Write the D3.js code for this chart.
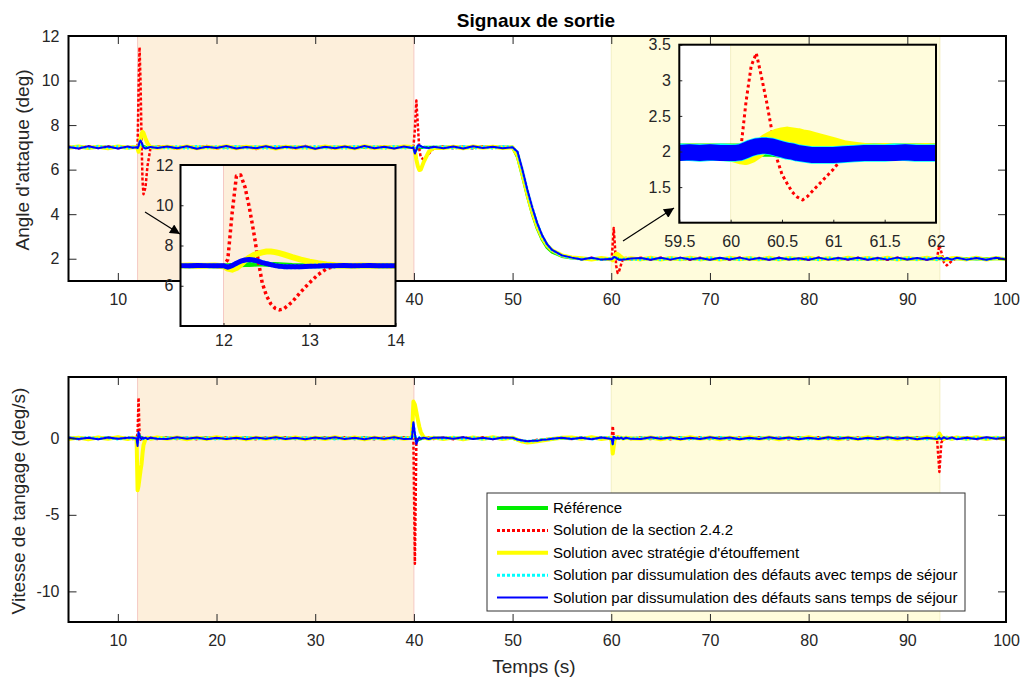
<!DOCTYPE html>
<html><head><meta charset="utf-8">
<script src="https://cdn.jsdelivr.net/npm/d3@7"></script>
<style>
body{margin:0;background:#fff}
svg text{font-family:"Liberation Sans",Arial,sans-serif;fill:#262626}
.tk text{font-size:16px}
.tk line{stroke:#262626;stroke-width:1}
</style>
</head><body><svg id="c" width="1023" height="677"></svg>
<script>
// ---------------- DATA ----------------
const time = [5,6,7,8,9,10,11,
 11.5,11.9,12,12.1,12.2,12.3,12.4,12.5,12.6,12.8,13,13.3,14,
 15,16,17,18,19,20,21,22,23,24,25,26,27,28,29,30,31,32,33,34,35,36,37,38,39,
 39.8,39.95,40.1,40.25,40.4,40.55,40.7,41,41.5,42,
 43,44,45,46,47,48,49,
 50,50.5,51,51.5,52,52.5,53,53.5,54,55,
 56,57,58,59,
 59.9,60.05,60.15,60.25,60.35,60.5,60.65,60.8,61,61.2,61.5,62,
 63,64,65,66,67,68,69,70,71,72,73,74,75,76,77,78,79,80,81,82,83,84,85,86,87,88,89,90,91,92,93,
 93.25,93.45,93.7,94,94.5,
 95,96,97,98,99,100];

const alphaReference = [7.00,7.01,6.99,7.00,7.01,7.00,6.99,
 7.00,7.00,7.00,7.02,7.04,7.06,7.08,7.07,7.05,7.01,6.99,7.00,7.00,
 7.00,6.99,7.01,7.00,7.00,6.99,7.01,7.00,7.00,7.01,6.99,7.00,7.00,7.01,7.00,6.99,7.00,7.01,7.00,7.00,6.99,7.01,7.00,7.00,7.00,
 7.00,7.00,6.96,6.93,6.94,6.96,6.98,7.00,7.00,7.00,
 7.00,7.01,7.00,6.99,7.00,7.01,7.00,
 7.00,6.55,5.70,4.80,4.00,3.35,2.85,2.50,2.30,2.10,
 2.03,2.00,2.00,2.01,
 2.00,2.00,2.01,2.03,2.04,2.03,2.02,2.01,2.00,2.00,2.00,2.00,
 2.00,2.01,1.99,2.00,2.00,2.01,2.00,1.99,2.00,2.01,2.00,2.00,1.99,2.00,2.01,2.00,2.00,1.99,2.01,2.00,2.00,2.01,1.99,2.00,2.00,2.01,2.00,1.99,2.00,2.01,2.00,
 2.00,2.00,2.00,2.00,2.00,
 2.00,2.01,1.99,2.00,2.01,2.00];
const alphaSection242 = [7.03,6.95,7.05,6.97,7.04,6.96,7.02,
 6.98,7.02,7.05,9.60,11.50,9.90,7.40,5.50,4.90,5.20,6.15,6.95,7.03,
 7.05,6.94,7.03,6.98,7.06,6.95,7.02,6.97,7.04,6.93,7.05,6.98,7.02,6.95,7.06,6.97,7.03,6.94,7.04,6.98,7.02,6.96,7.05,6.97,7.03,
 7.03,7.00,7.80,9.10,8.00,6.90,6.55,6.45,6.70,6.95,
 7.04,6.96,7.03,6.95,7.05,6.97,7.02,
 7.00,6.60,5.75,4.85,4.05,3.40,2.90,2.55,2.35,2.12,
 2.05,1.97,2.04,1.96,
 2.03,2.00,2.70,3.38,2.70,1.68,1.36,1.45,1.75,2.02,2.03,1.97,
 2.04,1.96,2.05,1.97,2.03,1.95,2.04,1.98,2.02,1.96,2.05,1.97,2.03,1.96,2.04,1.98,2.02,1.95,2.05,1.97,2.03,1.96,2.04,1.97,2.03,1.95,2.05,1.98,2.02,1.96,2.03,
 2.60,2.30,1.85,1.70,1.90,
 2.03,1.97,2.04,1.96,2.02,1.98];
const alphaEtouffement = [6.98,7.04,6.97,7.03,6.96,7.04,6.98,
 7.00,7.01,6.95,6.80,7.05,7.40,7.60,7.70,7.65,7.40,7.18,7.02,6.98,
 7.03,6.97,7.04,6.96,7.02,6.98,7.05,6.96,7.03,6.97,7.04,6.95,7.03,6.98,7.02,6.96,7.04,6.97,7.03,6.96,7.05,6.97,7.02,6.98,7.04,
 7.02,7.00,6.85,6.45,6.15,5.98,6.00,6.35,6.80,6.98,
 6.97,7.03,6.96,7.04,6.98,7.03,6.97,
 7.00,6.65,5.80,4.90,4.10,3.45,2.95,2.60,2.38,2.15,
 2.06,2.02,1.97,2.03,
 1.98,1.96,1.93,2.01,2.13,2.22,2.21,2.16,2.08,2.02,1.99,2.02,
 1.97,2.04,1.96,2.03,1.98,2.04,1.97,2.03,1.96,2.04,1.98,2.03,1.97,2.04,1.96,2.03,1.98,2.04,1.97,2.02,1.96,2.04,1.98,2.03,1.97,2.04,1.96,2.03,1.98,2.04,1.97,
 2.08,2.05,1.97,1.96,2.02,
 2.03,1.97,2.04,1.96,2.03,1.98];
const alphaAvecSejour = [6.99,7.03,6.97,7.04,6.98,7.03,6.97,
 7.00,6.99,6.98,7.04,7.20,7.28,7.22,7.10,7.01,6.96,6.98,7.00,7.02,
 6.97,7.03,6.96,7.04,6.98,7.03,6.96,7.04,6.97,7.03,6.96,7.04,6.98,7.03,6.96,7.04,6.97,7.03,6.96,7.04,6.98,7.03,6.96,7.04,6.97,
 7.02,7.00,6.76,6.92,7.06,7.08,7.04,7.00,6.98,7.01,
 7.03,6.97,7.04,6.96,7.03,6.97,7.04,
 7.00,6.78,5.97,5.07,4.27,3.57,3.02,2.63,2.38,2.13,
 2.03,1.98,2.03,1.97,
 2.00,1.99,2.02,2.06,2.07,2.03,1.99,1.96,1.96,1.98,2.00,1.98,
 1.97,2.03,1.96,2.04,1.97,2.03,1.96,2.04,1.97,2.03,1.96,2.04,1.97,2.03,1.96,2.04,1.97,2.03,1.96,2.04,1.97,2.03,1.96,2.04,1.97,2.03,1.96,2.04,1.97,2.03,1.96,
 2.01,2.03,1.98,2.02,1.97,
 2.03,1.97,2.04,1.96,2.03,1.98];
const alphaSansSejour = [7.02,6.95,7.05,6.96,7.04,6.95,7.04,
 6.98,7.01,6.97,7.05,7.25,7.30,7.22,7.10,7.00,6.95,6.97,7.02,6.97,
 7.04,6.96,7.05,6.94,7.03,6.97,7.06,6.95,7.02,6.96,7.05,6.95,7.03,6.97,7.05,6.94,7.03,6.96,7.04,6.95,7.06,6.96,7.03,6.95,7.04,
 6.97,7.00,6.72,6.90,7.08,7.10,7.05,7.00,6.97,7.03,
 6.96,7.04,6.95,7.05,6.97,7.03,6.96,
 7.00,6.80,6.00,5.10,4.30,3.60,3.05,2.65,2.40,2.15,
 2.05,1.97,2.04,1.96,
 1.99,1.98,2.02,2.07,2.08,2.03,1.98,1.95,1.95,1.97,1.98,2.01,
 2.03,1.95,2.04,1.96,2.05,1.97,2.03,1.95,2.04,1.97,2.05,1.96,2.03,1.95,2.04,1.97,2.02,1.95,2.05,1.96,2.03,1.97,2.04,1.95,2.03,1.96,2.05,1.97,2.03,1.95,2.04,
 2.00,2.04,1.97,2.03,1.96,
 2.04,1.96,2.03,1.95,2.04,1.97];

const rateReference = [0.00,0.01,-0.01,0.00,0.01,0.00,-0.01,
 0.00,0.00,0.02,0.10,0.12,0.08,0.04,0.00,-0.03,-0.02,0.00,0.00,0.00,
 0.01,0.00,-0.01,0.00,0.01,0.00,-0.01,0.00,0.01,0.00,-0.01,0.00,0.01,0.00,-0.01,0.00,0.01,0.00,-0.01,0.00,0.01,0.00,-0.01,0.00,0.01,
 0.00,0.02,0.05,-0.05,-0.10,-0.08,-0.04,0.00,0.00,0.00,
 0.00,0.01,0.00,-0.01,0.00,0.01,0.00,
 0.00,-0.10,-0.20,-0.22,-0.20,-0.16,-0.12,-0.08,-0.04,0.00,
 -0.01,0.00,0.00,0.00,
 0.00,0.00,0.02,0.05,0.04,0.01,-0.02,-0.02,0.00,0.00,0.00,0.00,
 0.00,0.01,-0.01,0.00,0.01,0.00,-0.01,0.00,0.01,0.00,-0.01,0.00,0.01,0.00,-0.01,0.00,0.01,0.00,-0.01,0.00,0.01,0.00,-0.01,0.00,0.01,0.00,-0.01,0.00,0.01,0.00,-0.01,
 0.00,0.01,0.00,-0.01,0.00,
 0.00,0.01,-0.01,0.00,0.01,0.00];
const rateSection242 = [0.05,-0.06,0.04,-0.05,0.06,-0.04,0.05,
 -0.05,0.05,0.30,2.65,0.20,-0.10,0.06,-0.05,0.04,0.05,-0.04,0.05,-0.05,
 0.06,-0.05,0.04,-0.06,0.05,-0.04,0.06,-0.05,0.04,-0.06,0.05,-0.04,0.06,-0.05,0.04,-0.06,0.05,-0.04,0.06,-0.05,0.04,-0.06,0.05,-0.04,0.06,
 0.05,-0.03,-8.20,-0.25,0.08,-0.05,0.05,-0.04,0.06,-0.05,
 0.04,-0.06,0.05,-0.04,0.06,-0.05,0.04,
 0.05,-0.08,-0.15,-0.22,-0.18,-0.10,-0.12,-0.05,-0.06,0.04,
 -0.05,0.06,-0.04,0.05,
 0.05,0.10,0.80,0.10,-0.10,-0.05,0.05,-0.04,0.05,-0.05,0.04,-0.05,
 0.06,-0.05,0.04,-0.06,0.05,-0.04,0.06,-0.05,0.04,-0.06,0.05,-0.04,0.06,-0.05,0.04,-0.06,0.05,-0.04,0.06,-0.05,0.04,-0.06,0.05,-0.04,0.06,-0.05,0.04,-0.06,0.05,-0.04,0.06,
 -2.20,-0.30,0.05,-0.05,0.06,
 -0.04,0.05,-0.06,0.04,-0.05,0.06];
const rateEtouffement = [-0.05,0.04,-0.06,0.05,-0.04,0.06,-0.05,
 0.03,-0.05,-3.40,-3.10,-2.60,-2.10,-1.70,-1.00,-0.45,-0.05,0.04,-0.03,0.05,
 -0.04,0.05,-0.06,0.04,-0.05,0.06,-0.04,0.05,-0.06,0.04,-0.05,0.06,-0.04,0.05,-0.06,0.04,-0.05,0.06,-0.04,0.05,-0.06,0.04,-0.05,0.06,-0.04,
 0.03,2.40,2.20,1.70,1.20,0.75,0.40,0.05,-0.03,0.04,
 -0.05,0.04,-0.06,0.05,-0.04,0.06,-0.05,
 0.04,-0.10,-0.22,-0.28,-0.25,-0.20,-0.15,-0.10,-0.05,0.03,
 0.05,-0.04,0.06,-0.05,
 0.03,-0.20,-1.00,-0.50,-0.10,0.05,0.08,0.05,0.03,-0.03,0.04,-0.02,
 -0.04,0.05,-0.06,0.04,-0.05,0.06,-0.04,0.05,-0.06,0.04,-0.05,0.06,-0.04,0.05,-0.06,0.04,-0.05,0.06,-0.04,0.05,-0.06,0.04,-0.05,0.06,-0.04,0.05,-0.06,0.04,-0.05,0.06,-0.04,
 0.30,0.10,-0.05,0.04,-0.03,
 0.05,-0.04,0.06,-0.05,0.04,-0.06];
const rateAvecSejour = [0.03,-0.04,0.05,-0.03,0.04,-0.05,0.03,
 0.00,0.02,-0.40,0.35,0.12,0.02,-0.04,0.04,-0.02,0.03,-0.03,0.02,-0.03,
 0.04,-0.03,0.05,-0.04,0.03,-0.05,0.04,-0.03,0.05,-0.04,0.03,-0.05,0.04,-0.03,0.05,-0.04,0.03,-0.05,0.04,-0.03,0.05,-0.04,0.03,-0.05,0.04,
 0.02,0.90,0.25,-0.30,-0.08,0.04,-0.03,0.03,-0.04,0.03,
 -0.03,0.05,-0.04,0.03,-0.05,0.04,-0.03,
 0.03,-0.08,-0.16,-0.20,-0.18,-0.14,-0.10,-0.07,-0.04,0.02,
 -0.04,0.03,-0.05,0.04,
 0.02,-0.03,-0.35,0.08,0.04,-0.02,0.03,-0.02,0.03,-0.04,0.02,-0.03,
 0.04,-0.03,0.05,-0.04,0.03,-0.05,0.04,-0.03,0.05,-0.04,0.03,-0.05,0.04,-0.03,0.05,-0.04,0.03,-0.05,0.04,-0.03,0.05,-0.04,0.03,-0.05,0.04,-0.03,0.05,-0.04,0.03,-0.05,0.04,
 0.10,0.05,-0.03,0.04,-0.04,
 0.03,-0.05,0.04,-0.03,0.05,-0.04];
const rateSansSejour = [0.03,-0.05,0.04,-0.06,0.05,-0.04,0.03,
 0.03,-0.02,-0.50,0.40,0.15,0.00,-0.05,0.05,-0.03,0.04,-0.05,0.03,-0.04,
 -0.05,0.06,-0.04,0.05,-0.06,0.04,-0.05,0.03,-0.06,0.05,-0.04,0.06,-0.05,0.04,-0.06,0.05,-0.04,0.06,-0.05,0.03,-0.06,0.05,-0.04,0.06,-0.05,
 -0.03,1.05,0.30,-0.37,-0.10,0.05,-0.03,0.04,-0.05,0.04,
 0.05,-0.04,0.06,-0.05,0.04,-0.06,0.05,
 0.03,-0.08,-0.14,-0.20,-0.16,-0.17,-0.10,-0.08,-0.03,0.04,
 -0.05,0.04,-0.06,0.05,
 -0.03,-0.05,-0.40,0.10,0.05,-0.03,0.04,-0.03,0.04,-0.05,0.03,-0.04,
 -0.05,0.06,-0.04,0.05,-0.06,0.04,-0.05,0.06,-0.04,0.05,-0.06,0.04,-0.05,0.06,-0.04,0.05,-0.06,0.04,-0.05,0.06,-0.04,0.05,-0.06,0.04,-0.05,0.06,-0.04,0.05,-0.06,0.04,-0.05,
 0.04,-0.05,0.06,-0.04,0.05,
 -0.06,0.04,-0.05,0.06,-0.04,0.05];

// inset 1 (zoom on t = 11.5 .. 14)
const zoom1Time = [11.5,11.6,11.7,11.8,11.9,12,
 12.05,12.1,12.15,12.2,12.25,12.3,12.35,12.4,12.45,12.5,12.55,12.6,12.65,12.7,
 12.8,12.9,13,13.1,13.2,13.3,13.4,13.5,13.6,13.7,13.8,13.9,14];
const zoom1Reference = [7.00,7.00,7.00,7.00,7.00,7.00,
 7.00,7.01,7.02,7.04,7.05,7.06,7.07,7.08,7.08,7.07,7.06,7.05,7.04,7.03,
 7.01,7.00,6.99,7.00,7.00,7.00,7.00,7.00,7.00,7.00,7.00,7.00,7.00];
const zoom1Section242 = [7.02,6.97,7.03,6.98,7.02,7.00,
 7.30,9.60,11.45,11.50,10.90,9.90,8.70,7.35,6.15,5.50,5.10,4.88,4.80,4.85,
 5.20,5.70,6.15,6.55,6.85,6.97,7.03,6.98,7.03,6.97,7.02,6.98,7.02];
const zoom1Etouffement = [7.00,7.01,6.99,7.00,7.01,6.97,
 6.85,6.80,6.88,7.05,7.25,7.40,7.52,7.60,7.66,7.70,7.70,7.67,7.62,7.56,
 7.42,7.30,7.20,7.12,7.06,7.02,7.00,6.99,7.01,7.00,6.99,7.00,7.00];
const zoom1AvecSejour = [7.00,6.99,7.01,7.00,6.99,7.00,
 6.93,7.00,7.11,7.21,7.27,7.29,7.27,7.22,7.15,7.10,7.05,7.00,6.97,6.95,
 6.94,6.95,6.97,6.98,7.00,7.00,7.01,6.99,7.00,7.01,6.99,7.00,7.00];
const zoom1SansSejour = [7.00,6.99,7.01,7.00,6.99,7.00,
 6.92,7.00,7.12,7.22,7.28,7.30,7.28,7.22,7.15,7.10,7.05,7.00,6.97,6.95,
 6.94,6.95,6.97,6.98,7.00,7.00,7.01,6.99,7.00,7.01,6.99,7.00,7.00];

// inset 2 (zoom on t = 59.5 .. 62)
const zoom2Time = [59.5,59.6,59.7,59.8,59.9,60,
 60.05,60.1,60.15,60.2,60.25,60.3,60.35,60.4,60.45,60.5,60.55,60.6,60.65,60.7,60.75,60.8,
 60.9,61,61.1,61.2,61.3,61.4,61.5,61.6,61.7,61.8,61.9,62];
const zoom2Reference = [2.00,2.00,2.00,2.00,2.00,2.00,
 2.00,2.00,2.01,2.02,2.03,2.04,2.04,2.04,2.03,2.02,2.01,2.00,1.99,1.99,1.99,1.99,
 2.00,2.00,2.00,2.00,2.00,2.00,2.00,2.00,2.00,2.00,2.00,2.00];
const zoom2Section242 = [2.02,1.98,2.03,1.97,2.02,1.99,
 2.01,2.05,2.70,3.20,3.38,3.05,2.70,2.30,1.90,1.68,1.55,1.43,1.36,1.32,1.37,1.45,
 1.60,1.75,1.93,2.02,1.97,2.03,1.98,2.02,1.97,2.03,1.98,2.02];
const zoom2Etouffement = [1.99,2.00,1.98,2.00,1.99,1.98,
 1.96,1.94,1.93,1.96,2.01,2.07,2.13,2.17,2.20,2.22,2.23,2.22,2.21,2.19,2.18,2.16,
 2.12,2.08,2.04,2.02,2.00,1.99,2.00,1.99,2.00,1.99,2.00,1.99];
const zoom2AvecSejour = [1.99,1.99,1.98,1.99,1.99,1.98,
 1.98,1.99,2.02,2.05,2.07,2.08,2.08,2.07,2.05,2.03,2.01,2.00,1.98,1.97,1.96,1.95,
 1.95,1.95,1.96,1.97,1.98,1.98,1.98,1.99,1.99,1.98,1.98,1.98];
const zoom2SansSejour = [1.98,1.99,1.98,1.99,1.98,1.98,
 1.98,1.99,2.02,2.05,2.07,2.08,2.08,2.07,2.05,2.03,2.01,2.00,1.98,1.97,1.96,1.95,
 1.95,1.95,1.96,1.97,1.98,1.98,1.98,1.98,1.99,1.98,1.98,1.98];

const faultWindows = [[12,40],[60,93.3]];
const timeTicks = [10,20,30,40,50,60,70,80,90,100];
const alphaTicks = [2,4,6,8,10,12];
const rateTicks = [-10,-5,0];
const zoom1XTicks = [12,13,14];
const zoom1YTicks = [6,8,10,12];
const zoom2XTicks = [59.5,60,60.5,61,61.5,62];
const zoom2YTicks = [1.5,2,2.5,3,3.5];
const legendLabels = ["Référence","Solution de la section 2.4.2","Solution avec stratégie d'étouffement",
 "Solution par dissumulation des défauts avec temps de séjour","Solution par dissumulation des défauts sans temps de séjour"];
const titleText = "Signaux de sortie";
const xLabel = "Temps (s)";
const alphaLabel = "Angle d'attaque (deg)";
const rateLabel = "Vitesse de tangage (deg/s)";

// ---------------- STYLE / LAYOUT ----------------
const colors = ["#00ee00","#ff0000","#ffff00","#00ffff","#0000ff"];
const windowFill = ["#fdefdb","#fffcdc"];
const windowEdge = ["#f5c9c4","#f3efc4"];
const svg = d3.select("#c");
const defs = svg.append("defs");
let clipN = 0;
function clip(x0,y0,w,h){const id="cp"+(clipN++);defs.append("clipPath").attr("id",id).append("rect").attr("x",x0).attr("y",y0).attr("width",w).attr("height",h);return "url(#"+id+")";}

const X0=68.5, X1=1006;
const x = d3.scaleLinear().domain([5,100]).range([X0,X1]);
const yA = d3.scaleLinear().domain([1,12]).range([281,36]);
const yR = d3.scaleLinear().domain([-12,4]).range([622,377]);

function drawWindows(g, xs, ys, fills){
  const [xa,xb]=xs.range(), [yb,ya]=ys.range();
  const dom=xs.domain();
  faultWindows.forEach((w,i)=>{
    const a=Math.max(w[0],dom[0]), b=Math.min(w[1],dom[1]);
    if(b<=a) return;
    g.append("rect").attr("x",xs(a)).attr("y",ya).attr("width",xs(b)-xs(a)).attr("height",yb-ya).attr("fill",fills[i]);
    [w[0],w[1]].forEach(e=>{ if(e>dom[0]&&e<dom[1]) g.append("line").attr("x1",xs(e)).attr("x2",xs(e)).attr("y1",ya).attr("y2",yb).attr("stroke",windowEdge[i]).attr("stroke-width",1);});
  });
}
function drawSeries(g, xs, ys, t, series, widths, dashes){
  series.forEach((s,i)=>{
    const line=d3.line().x((d,j)=>xs(t[j])).y(d=>ys(d));
    g.append("path").attr("d",line(s)).attr("fill","none").attr("stroke",colors[i])
     .attr("stroke-width",widths[i]).attr("stroke-dasharray",dashes[i]).attr("stroke-linejoin","round");
  });
}
function frame(g, xs, ys, xt, yt, tick, padX, padY, full, fmt){
  const [xa,xb]=xs.range(), [yb,ya]=ys.range();
  const f = fmt||(d=>String(d));
  const gb=g.append("g").attr("class","tk").attr("transform",`translate(0,${yb})`)
    .call(d3.axisBottom(xs).tickValues(xt).tickSizeInner(-tick).tickSizeOuter(0).tickPadding(padX).tickFormat(f));
  const gl=g.append("g").attr("class","tk").attr("transform",`translate(${xa},0)`)
    .call(d3.axisLeft(ys).tickValues(yt).tickSizeInner(-tick).tickSizeOuter(0).tickPadding(padY).tickFormat(f));
  const gs=[gb,gl];
  if(full){
    gs.push(g.append("g").attr("class","tk").attr("transform",`translate(0,${ya})`)
      .call(d3.axisTop(xs).tickValues(xt).tickSizeInner(-tick).tickSizeOuter(0).tickFormat("")));
    gs.push(g.append("g").attr("class","tk").attr("transform",`translate(${xb},0)`)
      .call(d3.axisRight(ys).tickValues(yt).tickSizeInner(-tick).tickSizeOuter(0).tickFormat("")));
  }
  gs.forEach(a=>{a.attr("font-family",null).attr("font-size",null);a.select(".domain").remove();});
  g.append("rect").attr("x",xa).attr("y",ya).attr("width",xb-xa).attr("height",yb-ya)
   .attr("fill","none").attr("stroke","#000").attr("stroke-width",2);
}

// ---------------- MAIN PANELS ----------------
const mainW=[3,2.5,4,3,2], mainD=[null,"3,2",null,"2,2",null];
function mainPanel(ys, series, yt){
  const g=svg.append("g");
  const [yb,ya]=ys.range();
  g.append("rect").attr("x",X0).attr("y",ya).attr("width",X1-X0).attr("height",yb-ya).attr("fill","#fff");
  const inner=g.append("g").attr("clip-path",clip(X0,ya,X1-X0,yb-ya));
  drawWindows(inner,x,ys,windowFill);
  drawSeries(inner,x,ys,time,series,mainW,mainD);
  frame(g,x,ys,timeTicks,yt,8,12.5,9,true);
}
mainPanel(yA,[alphaReference,alphaSection242,alphaEtouffement,alphaAvecSejour,alphaSansSejour],alphaTicks);
mainPanel(yR,[rateReference,rateSection242,rateEtouffement,rateAvecSejour,rateSansSejour],rateTicks);

// ---------------- INSETS ----------------
const arrowDef=defs.append("marker").attr("id","ah").attr("viewBox","0 0 10 10").attr("refX",10).attr("refY",5)
 .attr("markerWidth",14).attr("markerHeight",10).attr("markerUnits","userSpaceOnUse").attr("orient","auto");
arrowDef.append("path").attr("d","M0,0 L10,5 L0,10 Z").attr("fill","#000");

function inset(xs, ys, t, series, widths, dashes, xt, yt, padX, padY){
  const g=svg.append("g");
  const [xa,xb]=xs.range(), [yb,ya]=ys.range();
  g.append("rect").attr("x",xa).attr("y",ya).attr("width",xb-xa).attr("height",yb-ya).attr("fill","#fff");
  const inner=g.append("g").attr("clip-path",clip(xa,ya,xb-xa,yb-ya));
  drawWindows(inner,xs,ys,windowFill);
  drawSeries(inner,xs,ys,t,series,widths,dashes);
  frame(g,xs,ys,xt,yt,3,padX,padY,false);
}
const xZ1=d3.scaleLinear().domain([11.5,14]).range([180.5,395.5]);
const yZ1=d3.scaleLinear().domain([4,12]).range([326,165]);
inset(xZ1,yZ1,zoom1Time,[zoom1Reference,zoom1Section242,zoom1Etouffement,zoom1AvecSejour,zoom1SansSejour],
  [5,3.5,6,5,5],[null,"3,3",null,"2,2",null],zoom1XTicks,zoom1YTicks,9,7);
const xZ2=d3.scaleLinear().domain([59.5,62]).range([679.3,936]);
const yZ2=d3.scaleLinear().domain([1,3.5]).range([222.7,44.7]);
inset(xZ2,yZ2,zoom2Time,[zoom2Reference,zoom2Section242,zoom2Etouffement,zoom2AvecSejour,zoom2SansSejour],
  [16,3,17,17.5,16],[null,"3,3",null,null,null],zoom2XTicks,zoom2YTicks,13,8.5);

svg.append("line").attr("x1",145).attr("y1",212).attr("x2",180).attr("y2",234).attr("stroke","#000").attr("stroke-width",1.2).attr("marker-end","url(#ah)");
svg.append("line").attr("x1",623).attr("y1",241).attr("x2",674).attr("y2",208).attr("stroke","#000").attr("stroke-width",1.2).attr("marker-end","url(#ah)");

// ---------------- TEXT ----------------
svg.append("text").attr("x",536).attr("y",27).attr("text-anchor","middle").style("font-size","19px").style("font-weight","bold").style("fill","#000").text(titleText);
svg.append("text").attr("transform","translate(29,160) rotate(-90)").attr("text-anchor","middle").style("font-size","19px").text(alphaLabel);
svg.append("text").attr("transform","translate(25,501) rotate(-90)").attr("text-anchor","middle").style("font-size","19px").text(rateLabel);
svg.append("text").attr("x",534).attr("y",673).attr("text-anchor","middle").style("font-size","19px").text(xLabel);

// ---------------- LEGEND ----------------
const lg=svg.append("g");
lg.append("rect").attr("x",487).attr("y",493).attr("width",478).attr("height",118).attr("fill","#fff").attr("stroke","#333").attr("stroke-width",1);
const legW=[4,3,4,3,2], legD=[null,"3,2",null,"3,2",null];
legendLabels.forEach((lab,i)=>{
  const yy=508+i*22.4;
  lg.append("line").attr("x1",497).attr("x2",548).attr("y1",yy).attr("y2",yy).attr("stroke",colors[i]).attr("stroke-width",legW[i]).attr("stroke-dasharray",legD[i]);
  lg.append("text").attr("x",553).attr("y",yy+5).style("font-size","15px").style("fill","#000").text(lab);
});
</script>
</body></html>
